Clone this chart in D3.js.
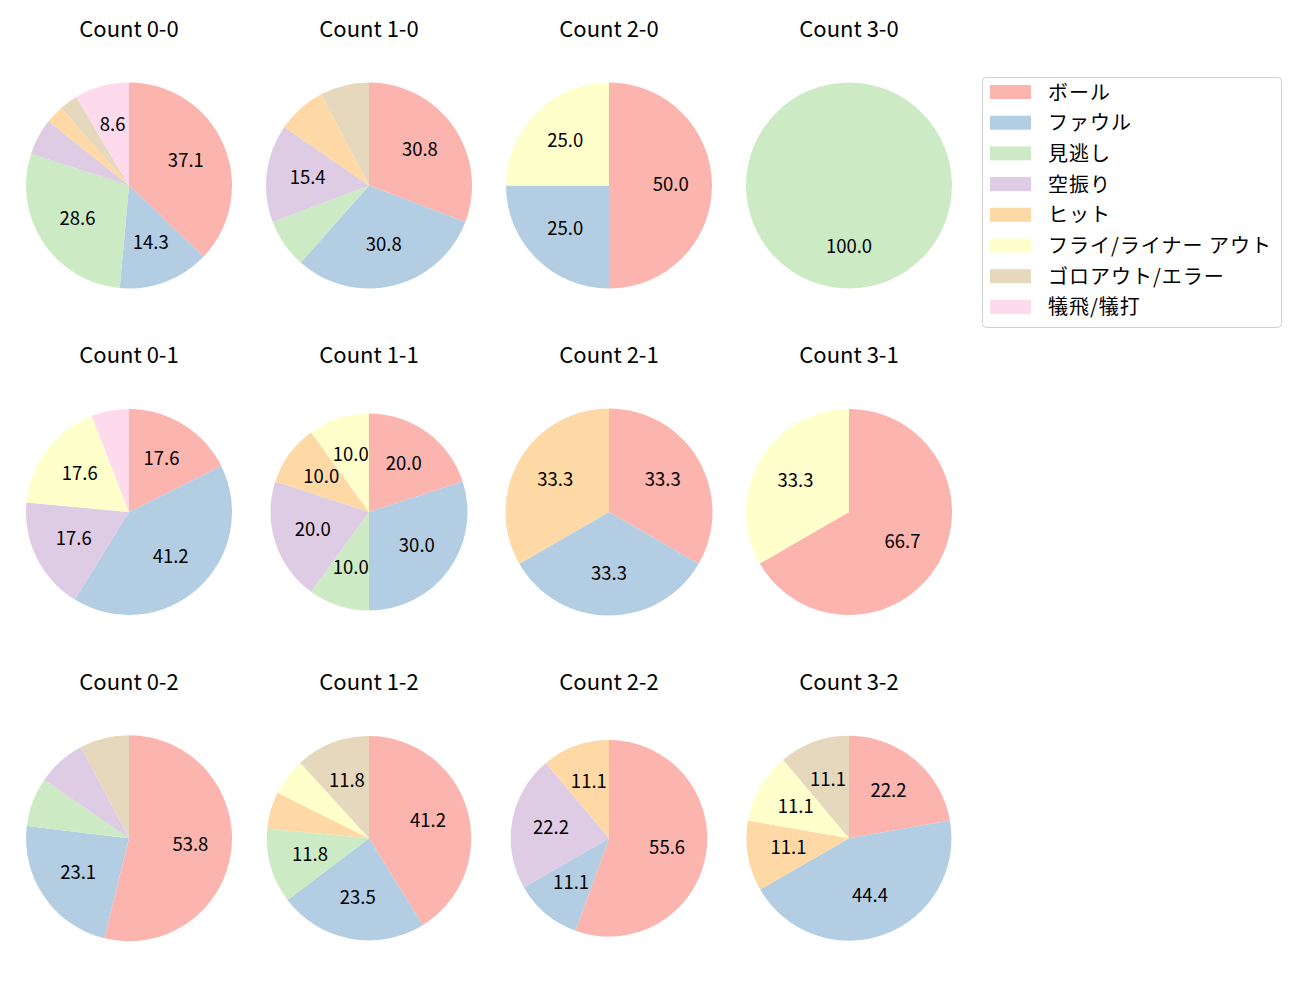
<!DOCTYPE html>
<html>
<head>
<meta charset="utf-8">
<script src="https://cdn.jsdelivr.net/npm/d3@7"></script>
<style>
  html, body { margin: 0; padding: 0; background: #fff; }
  svg text { font-family: "Noto Sans CJK JP", "Noto Sans", sans-serif; fill: #000; }
</style>
</head>
<body>
<svg id="chart" width="1300" height="1000"></svg>
<script>
// ---- data ----
const categories = ["ボール", "ファウル", "見逃し", "空振り", "ヒット", "フライ/ライナー アウト", "ゴロアウト/エラー", "犠飛/犠打"];
const colors = ["#fbb4ae", "#b3cde3", "#ccebc5", "#decbe4", "#fed9a6", "#ffffcc", "#e5d8bd", "#fddaec"];
const titles = ["Count 0-0", "Count 1-0", "Count 2-0", "Count 3-0",
                "Count 0-1", "Count 1-1", "Count 2-1", "Count 3-1",
                "Count 0-2", "Count 1-2", "Count 2-2", "Count 3-2"];
const count00 = [13, 5, 10, 2, 1, 0, 1, 3];
const count10 = [4, 4, 1, 2, 1, 0, 1, 0];
const count20 = [2, 1, 0, 0, 0, 1, 0, 0];
const count30 = [0, 0, 1, 0, 0, 0, 0, 0];
const count01 = [3, 7, 0, 3, 0, 3, 0, 1];
const count11 = [2, 3, 1, 2, 1, 1, 0, 0];
const count21 = [1, 1, 0, 0, 1, 0, 0, 0];
const count31 = [2, 0, 0, 0, 0, 1, 0, 0];
const count02 = [7, 3, 1, 1, 0, 0, 1, 0];
const count12 = [7, 4, 2, 0, 1, 1, 2, 0];
const count22 = [5, 1, 0, 2, 1, 0, 0, 0];
const count32 = [2, 4, 0, 0, 1, 1, 1, 0];
const panels = [count00, count10, count20, count30,
                count01, count11, count21, count31,
                count02, count12, count22, count32];
const labelThreshold = 8; // percent labels shown only for larger wedges

// ---- layout ----
const colX = [129, 369, 609, 849];
const rowY = [185.5, 512, 838.3];
const radii = [103, 103, 103, 103, 103, 98.5, 103.5, 103, 103, 102.2, 98.3, 102.5];
const titleOffset = -148.8;

const svg = d3.select("#chart");
const pie = d3.pie().sort(null).value(d => d.v);

panels.forEach((vals, i) => {
  const cx = colX[i % 4], cy = rowY[Math.floor(i / 4)];
  const r = radii[i];
  const total = d3.sum(vals);
  const g = svg.append("g").attr("transform", `translate(${cx},${cy})`);
  const data = vals.map((v, k) => ({ v, k })).filter(d => d.v > 0);
  const arcs = pie(data);
  const arc = d3.arc().innerRadius(0).outerRadius(r);
  const labelArc = d3.arc().innerRadius(r * 0.6).outerRadius(r * 0.6);
  g.selectAll("path").data(arcs).join("path")
    .attr("d", arc)
    .attr("fill", d => colors[d.data.k]);
  g.selectAll("text.pct").data(arcs.filter(d => d.data.v / total * 100 >= labelThreshold)).join("text")
    .attr("class", "pct")
    .attr("transform", d => `translate(${labelArc.centroid(d)})`)
    .attr("text-anchor", "middle")
    .attr("dominant-baseline", "central")
    .attr("dy", "-2.5")
    .style("font-size", "18.5px")
    .text(d => (d.data.v / total * 100).toFixed(1));
  svg.append("text")
    .attr("x", cx).attr("y", cy + titleOffset)
    .attr("text-anchor", "middle")
    .style("font-size", "22px")
    .text(titles[i]);
});

// ---- legend ----
const legend = svg.append("g").attr("transform", "translate(982,77)");
legend.append("rect")
  .attr("x", 0.5).attr("y", 0.5).attr("width", 299).attr("height", 250)
  .attr("rx", 4).attr("fill", "#fff").attr("stroke", "#d0d0d0").attr("stroke-width", 1);
categories.forEach((c, i) => {
  const y = 15 + i * 30.7;
  legend.append("rect").attr("x", 8).attr("y", y - 7).attr("width", 41).attr("height", 14).attr("fill", colors[i]);
  legend.append("text").attr("x", 66).attr("y", y - 1).attr("dominant-baseline", "central")
    .style("font-size", "20px").style("letter-spacing", "1px").text(c);
});
</script>
</body>
</html>
